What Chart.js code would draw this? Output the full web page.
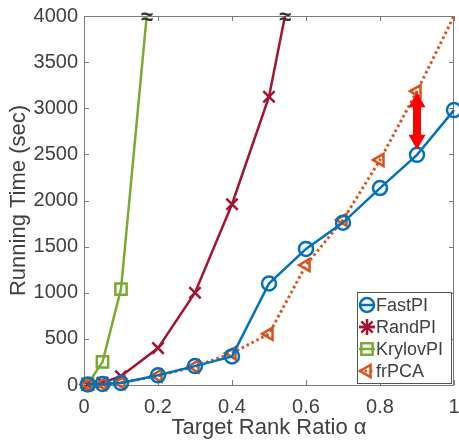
<!DOCTYPE html>
<html>
<head>
<meta charset="utf-8">
<script src="https://cdn.jsdelivr.net/npm/chart.js@4"></script>
<style>
  html, body { margin: 0; padding: 0; background: #fff; }
</style>
</head>
<body>
<canvas id="chart" width="459" height="441"></canvas>
<script>
// target rank ratio on x, running time (sec) on y
const alpha = [0.01, 0.05, 0.1, 0.2, 0.3, 0.4, 0.5, 0.6, 0.7, 0.8, 0.9, 1.0];
const fastPI = [5, 12, 22, 105, 205, 310, 1100, 1475, 1760, 2135, 2495, 2980];
const frPCA = [5, 12, 25, 100, 200, 345, 555, 1300, 1790, 2440, 3185, 4000];
const randAlpha = [0.01, 0.05, 0.1, 0.2, 0.3, 0.4, 0.5, 0.6];
const randPI = [5, 25, 95, 400, 1000, 1960, 3125, 5150];
const krylovAlpha = [0.01, 0.05, 0.1, 0.2];
const krylovPI = [10, 250, 1040, 5300];
const xTicks = [0, 0.2, 0.4, 0.6, 0.8, 1];
const yTicks = [0, 500, 1000, 1500, 2000, 2500, 3000, 3500, 4000];

const txt = '#404040';
const font = 'Liberation Sans, Arial, Helvetica, sans-serif';
const yMax = 4000;

const pts = (xs, ys) => xs.map((x, i) => ({ x: x, y: ys[i] }));

// box + inward ticks, MATLAB style
const frame = {
  id: 'frame',
  beforeDatasetsDraw(chart) {
    const { ctx, chartArea: a, scales: { x, y } } = chart;
    ctx.save();
    ctx.strokeStyle = '#7a7a7a';
    ctx.lineWidth = 1;
    ctx.beginPath();
    xTicks.forEach(v => {
      const px = Math.round(x.getPixelForValue(v)) + 0.5;
      ctx.moveTo(px, a.bottom); ctx.lineTo(px, a.bottom - 5);
      ctx.moveTo(px, a.top); ctx.lineTo(px, a.top + 5);
    });
    yTicks.forEach(v => {
      const py = Math.round(y.getPixelForValue(v)) + 0.5;
      ctx.moveTo(a.left, py); ctx.lineTo(a.left + 5, py);
      ctx.moveTo(a.right, py); ctx.lineTo(a.right - 5, py);
    });
    ctx.stroke();
    ctx.strokeRect(Math.round(a.left) + 0.5, Math.round(a.top) + 0.5,
      Math.round(a.right - a.left) - 1, Math.round(a.bottom - a.top));
    ctx.restore();
  }
};

// "≈" where a series leaves the top of the axis, red gap arrow at alpha 0.9
const extras = {
  id: 'extras',
  afterDatasetsDraw(chart) {
    const { ctx, chartArea: a, scales: { x, y } } = chart;
    const top = y.max;
    ctx.save();
    ctx.fillStyle = '#333';
    ctx.font = 'bold 22px ' + font;
    ctx.textAlign = 'center';
    ctx.textBaseline = 'middle';
    [[randAlpha, randPI], [krylovAlpha, krylovPI]].forEach(([xs, ys]) => {
      for (let i = 1; i < ys.length; i++) {
        if (ys[i - 1] <= top && ys[i] > top) {
          const t = (top - ys[i - 1]) / (ys[i] - ys[i - 1]);
          const xv = xs[i - 1] + t * (xs[i] - xs[i - 1]);
          ctx.fillText('≈', x.getPixelForValue(xv), a.top + 2);
        }
      }
    });

    const k = alpha.indexOf(0.9);
    const ax = x.getPixelForValue(alpha[k]);
    const y1 = y.getPixelForValue(frPCA[k]) + 1;
    const y2 = y.getPixelForValue(fastPI[k]) - 5;
    const hw = 8.5, hl = 15, sw = 4;
    ctx.fillStyle = '#ff0000';
    ctx.beginPath();
    ctx.moveTo(ax, y1);
    ctx.lineTo(ax + hw, y1 + hl);
    ctx.lineTo(ax + sw, y1 + hl);
    ctx.lineTo(ax + sw, y2 - hl);
    ctx.lineTo(ax + hw, y2 - hl);
    ctx.lineTo(ax, y2);
    ctx.lineTo(ax - hw, y2 - hl);
    ctx.lineTo(ax - sw, y2 - hl);
    ctx.lineTo(ax - sw, y1 + hl);
    ctx.lineTo(ax - hw, y1 + hl);
    ctx.closePath();
    ctx.fill();
    ctx.restore();
  }
};

// legend box in the lower right corner
const boxLegend = {
  id: 'boxLegend',
  afterDraw(chart) {
    const { ctx, chartArea: a } = chart;
    const w = 94, h = 91;
    const bx = a.right - 3 - w, by = a.bottom - 2 - h;
    ctx.save();
    ctx.fillStyle = '#fff';
    ctx.fillRect(bx, by, w, h);
    ctx.strokeStyle = '#555';
    ctx.lineWidth = 1;
    ctx.strokeRect(Math.round(bx) + 0.5, Math.round(by) + 0.5, w, h);
    ctx.font = '18px ' + font;
    ctx.textBaseline = 'middle';
    chart.data.datasets.forEach((ds, i) => {
      const cy = by + 13 + i * 22;
      const mx = bx + 10;
      ctx.strokeStyle = ds.borderColor;
      ctx.lineWidth = 2.5;
      ctx.setLineDash(ds.borderDash || []);
      ctx.beginPath();
      ctx.moveTo(mx - 8, cy); ctx.lineTo(mx + 8, cy);
      ctx.stroke();
      ctx.setLineDash([]);
      ctx.fillStyle = 'rgba(0,0,0,0)';
      Chart.helpers.drawPoint(ctx, {
        pointStyle: ds.legendStyle || ds.pointStyle,
        rotation: ds.pointRotation || 0,
        radius: ds.markerSize,
        borderWidth: 2.5
      }, mx, cy);
      ctx.fillStyle = txt;
      ctx.fillText(ds.label, mx + 9, cy + 1);
    });
    ctx.restore();
  }
};

// markers that sit on or beyond the top edge are not drawn
const radius = r => c => (c.raw && c.raw.y >= yMax ? 0 : r);

const common = {
  fill: false,
  borderWidth: 2.5,
  pointBorderWidth: 2.5,
  pointBackgroundColor: 'rgba(0,0,0,0)',
  clip: { left: 12, right: 12, top: 0, bottom: 12 }
};

new Chart(document.getElementById('chart'), {
  type: 'line',
  data: {
    datasets: [
      Object.assign({}, common, {
        label: 'FastPI',
        data: pts(alpha, fastPI),
        borderColor: '#0072BD',
        pointBorderColor: '#0072BD',
        pointStyle: 'circle',
        markerSize: 7,
        pointRadius: radius(7),
        order: 0
      }),
      Object.assign({}, common, {
        label: 'RandPI',
        data: pts(randAlpha, randPI),
        borderColor: '#A2142F',
        pointBorderColor: '#A2142F',
        pointStyle: 'crossRot',
        legendStyle: 'star',
        markerSize: 8,
        pointRadius: radius(8),
        order: 2
      }),
      Object.assign({}, common, {
        label: 'KrylovPI',
        data: pts(krylovAlpha, krylovPI),
        borderColor: '#77AC30',
        pointBorderColor: '#77AC30',
        pointStyle: 'rect',
        markerSize: 8,
        pointRadius: radius(8),
        order: 3
      }),
      Object.assign({}, common, {
        label: 'frPCA',
        data: pts(alpha, frPCA),
        borderColor: '#D95319',
        pointBorderColor: '#D95319',
        borderDash: [2.5, 3],
        borderWidth: 3,
        pointStyle: 'triangle',
        pointRotation: -90,
        markerSize: 7,
        pointRadius: radius(7),
        order: 1
      })
    ]
  },
  options: {
    responsive: false,
    animation: false,
    layout: { autoPadding: false, padding: { top: 16, right: 5, left: 0, bottom: 0 } },
    plugins: {
      legend: { display: false },
      tooltip: { enabled: false }
    },
    scales: {
      x: {
        type: 'linear',
        min: 0,
        max: 1,
        afterFit: s => { s.height = 56; s.paddingLeft = 0; s.paddingRight = 0; },
        afterBuildTicks: s => { s.ticks = xTicks.map(v => ({ value: v })); },
        grid: { display: false, drawTicks: false },
        border: { display: false },
        ticks: {
          padding: 10,
          color: txt,
          maxRotation: 0,
          font: { family: font, size: 20 },
          callback: v => String(v)
        },
        title: {
          display: true,
          text: 'Target Rank Ratio α',
          color: txt,
          padding: { top: 0, bottom: 0 },
          font: { family: font, size: 22 }
        }
      },
      y: {
        min: 0,
        max: yMax,
        afterFit: s => { s.width = 84; s.paddingTop = 0; s.paddingBottom = 0; },
        afterBuildTicks: s => { s.ticks = yTicks.map(v => ({ value: v })); },
        grid: { display: false, drawTicks: false },
        border: { display: false },
        ticks: {
          padding: 6,
          color: txt,
          font: { family: font, size: 20 },
          callback: v => String(v)
        },
        title: {
          display: true,
          text: 'Running Time (sec)',
          color: txt,
          padding: { top: 6, bottom: 0 },
          font: { family: font, size: 22 }
        }
      }
    }
  },
  plugins: [frame, extras, boxLegend]
});
</script>
</body>
</html>
